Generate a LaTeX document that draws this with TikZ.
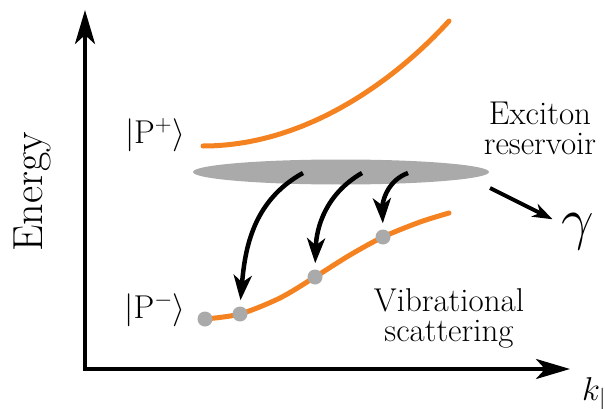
\RequirePackage{fix-cm}
\documentclass[tikz,border=0pt]{standalone}
\definecolor{polorange}{RGB}{245, 130, 32}
\definecolor{resgray}{RGB}{170, 170, 170}
\usepackage{tikz}
\usetikzlibrary{arrows.meta, positioning, shapes.geometric}

\begin{document}
\begin{tikzpicture}[x=1pt, y=1pt,
  axisline/.style={line width=4pt, line join=miter, {Stealth[length=34pt, width=20pt, inset=9pt]}-{Stealth[length=34pt, width=20pt, inset=9pt]}},
  polbranch/.style={line width=5pt, polorange, line cap=round},
  ptdot/.style={circle, fill=resgray, inner sep=0pt, minimum size=15pt},
  decay/.style={line width=4.5pt, -{Stealth[length=25pt, width=18pt, inset=7pt]}, shorten >=6pt},
  lbl/.style={font=\fontsize{33}{30}\selectfont, align=center, inner sep=0pt}
]
  \useasboundingbox (0,0) rectangle (605,408);

  % axes
  \coordinate (o) at (85,39);
  \coordinate (ytop) at (85,398);
  \coordinate (xend) at (570,39);
  \draw[axisline] (xend) -- (o) -- (ytop);
  \node[rotate=90, inner sep=0pt, font=\fontsize{42}{42}\selectfont] (elabel) at (32,216) {Energy};
  \node[anchor=base west, inner sep=0pt, font=\fontsize{33}{33}\selectfont] (klabel) at (582,8) {$k_{|}$};

  % reservoir
  \node[ellipse, fill=resgray, minimum width=296pt, minimum height=25pt, inner sep=0pt] (res) at (341,236) {};
  \node[lbl] (restext) at (540,280) {Exciton\\reservoir};

  % polariton branches
  \draw[polbranch] (203,262) .. controls (310,262) and (400,333) .. (449,387);
  \draw[polbranch] plot[smooth] coordinates {(205,89) (240,94) (280,110) (315,131) (350,153) (383,171) (420,186) (449,195)};
  \node[anchor=base, inner sep=0pt, font=\fontsize{33}{33}\selectfont] (pplus) at (155,265) {$|\mathrm{P}^{+}\rangle$};
  \node[anchor=base, inner sep=0pt, font=\fontsize{33}{33}\selectfont] (pminus) at (155,90) {$|\mathrm{P}^{-}\rangle$};

  \node[ptdot] (d0) at (205,89) {};
  \node[ptdot] (d1) at (240,94) {};
  \node[ptdot] (d2) at (315,131) {};
  \node[ptdot] (d3) at (383,171) {};

  % scattering out of the reservoir
  \coordinate (s1) at (303,235);
  \coordinate (s2) at (362,235);
  \coordinate (s3) at (408,235);
  \draw[decay] (s1) to[out=209, in=85] (d1.north);
  \draw[decay] (s2) to[out=210, in=88] (d2.north);
  \draw[decay] (s3) to[out=200, in=92] (d3.north);
  \node[lbl] (vibtext) at (449,90) {Vibrational\\scattering};

  % loss
  \node[inner sep=0pt, font=\fontsize{58}{58}\selectfont] (gam) at (578,176) {$\gamma$};
  \coordinate (g0) at (490,220);
  \draw[line width=4pt, -{Stealth[length=20pt, width=14pt, inset=6pt]}, shorten >=10pt] (g0) -- (gam);
\end{tikzpicture}
\end{document}
